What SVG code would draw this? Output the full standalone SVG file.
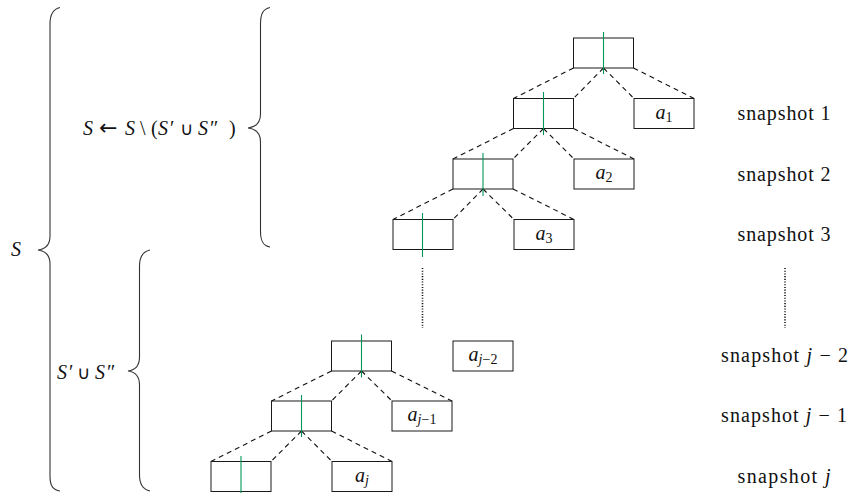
<svg xmlns="http://www.w3.org/2000/svg" width="850" height="493" viewBox="0 0 850 493" font-family="'Liberation Serif', 'DejaVu Serif', serif">
<style>
.box{fill:none;stroke:#1a1a1a;stroke-width:1}
.grn{stroke:#00965a;stroke-width:1.1}
.edge{stroke:#111;stroke-width:1.1;stroke-dasharray:5 4;fill:none}
.dot{stroke:#111;stroke-width:1.6;stroke-dasharray:1.1 1.6}
.brace{fill:none;stroke:#333;stroke-width:1.1}
text{font-family:"Liberation Serif","DejaVu Serif",serif;font-size:20px;fill:#111}
.it{font-style:italic}
.sym{font-family:"DejaVu Sans",sans-serif;font-size:18px}
.arr{font-family:"DejaVu Sans",sans-serif;font-size:22px}
.sub{font-size:14px;font-style:italic}
.subr{font-size:14px;font-style:normal}
.snap{text-anchor:middle}
.lbl{text-anchor:middle}
</style>
<rect width="850" height="493" fill="#fff"/>

<g id="braces">
<path class="brace" d="M60,7.5 C53,9 50,14 50,24 L50,236 C50,244 46,249 38,250 C46,251 50,256 50,264 L50,476 C50,486 53,490 60,491"/>
<path class="brace" d="M270,7.5 C263,9 260.5,14 260.5,24 L260.5,114 C260.5,122 256,127 248,128 C256,129 260.5,134 260.5,142 L260.5,231 C260.5,241 263,246 270,247"/>
<path class="brace" d="M150,250 C143,251.5 139.5,256 139.5,266 L139.5,357 C139.5,365 136,370 128,371 C136,372 139.5,377 139.5,385 L139.5,475 C139.5,485 143,489.5 150,491"/>
</g>

<g id="brace-labels">
<text id="label-S" x="11" y="256" class="it">S</text>
<text id="label-update" y="135"><tspan class="it" x="83">S</tspan><tspan class="arr" x="99">←</tspan><tspan class="it" x="125">S</tspan><tspan x="140">\</tspan><tspan x="151">(</tspan><tspan class="it" x="158">S</tspan><tspan x="170">′</tspan><tspan class="sym" x="180">∪</tspan><tspan class="it" x="198">S</tspan><tspan x="210">″</tspan><tspan x="229">)</tspan></text>
<text id="label-union" y="379"><tspan class="it" x="57">S</tspan><tspan x="69">′</tspan><tspan class="sym" x="77">∪</tspan><tspan class="it" x="95">S</tspan><tspan x="107">″</tspan></text>
</g>

<g id="connectors">
<path class="edge" d="M573.5,68 L513.5,98.5 M603.5,68 L573.5,98.5 M603.5,68 L634,98.5 M633.5,68 L694,98.5"/>
<path class="edge" d="M513.5,128.5 L453,159 M543.5,128.5 L513,159 M543.5,128.5 L574,159 M573.5,128.5 L634,159"/>
<path class="edge" d="M453,189 L393,219.5 M483,189 L453,219.5 M483,189 L514,219.5 M513,189 L574,219.5"/>
<path class="edge" d="M331.5,371 L271.5,401 M361.5,371 L331.5,401 M361.5,371 L392,401 M391.5,371 L452,401"/>
<path class="edge" d="M271.5,431 L211,461.5 M301.5,431 L271,461.5 M301.5,431 L332,461.5 M331.5,431 L392,461.5"/>
<line class="dot" x1="422.5" y1="268" x2="422.5" y2="328"/>
<line class="dot" x1="785" y1="268" x2="785" y2="328"/>
</g>

<g id="node-0"><rect class="box" x="573.5" y="38" width="60" height="30"/><line class="grn" x1="603.5" y1="32" x2="603.5" y2="74"/></g>
<g id="node-1"><rect class="box" x="513.5" y="98.5" width="60" height="30"/><line class="grn" x1="543.5" y1="92" x2="543.5" y2="135"/></g>
<g id="node-2"><rect class="box" x="453" y="159" width="60" height="30"/><line class="grn" x1="483" y1="153" x2="483" y2="196"/></g>
<g id="node-3"><rect class="box" x="393" y="219.5" width="60" height="30"/><line class="grn" x1="422.5" y1="213" x2="422.5" y2="257"/></g>
<g id="node-j2"><rect class="box" x="331.5" y="341" width="60" height="30"/><line class="grn" x1="361.5" y1="334.5" x2="361.5" y2="377.5"/></g>
<g id="node-j1"><rect class="box" x="271.5" y="401" width="60" height="30"/><line class="grn" x1="301.5" y1="395" x2="301.5" y2="437"/></g>
<g id="node-j"><rect class="box" x="211" y="461.5" width="60" height="30"/><line class="grn" x1="241" y1="456" x2="241" y2="493"/></g>

<g id="node-a1"><rect class="box" x="634" y="98.5" width="60" height="30"/><text class="lbl" x="664" y="118.5"><tspan class="it">a</tspan><tspan class="subr" dy="3">1</tspan></text></g>
<g id="node-a2"><rect class="box" x="574" y="159" width="60" height="30"/><text class="lbl" x="604" y="179"><tspan class="it">a</tspan><tspan class="subr" dy="3">2</tspan></text></g>
<g id="node-a3"><rect class="box" x="514" y="219.5" width="60" height="30"/><text class="lbl" x="544" y="239.5"><tspan class="it">a</tspan><tspan class="subr" dy="3">3</tspan></text></g>
<g id="node-aj2"><rect class="box" x="453" y="341" width="60" height="30"/><text class="lbl" x="483" y="361"><tspan class="it">a</tspan><tspan class="sub" dy="3">j</tspan><tspan class="subr">−2</tspan></text></g>
<g id="node-aj1"><rect class="box" x="392" y="401" width="60" height="30"/><text class="lbl" x="422" y="421"><tspan class="it">a</tspan><tspan class="sub" dy="3">j</tspan><tspan class="subr">−1</tspan></text></g>
<g id="node-aj"><rect class="box" x="332" y="461.5" width="60" height="30"/><text class="lbl" x="362" y="481.5"><tspan class="it">a</tspan><tspan class="sub" dy="3">j</tspan></text></g>

<g id="snapshots">
<text class="snap" x="784" y="120" textLength="93" lengthAdjust="spacing">snapshot 1</text>
<text class="snap" x="784" y="180.5" textLength="93" lengthAdjust="spacing">snapshot 2</text>
<text class="snap" x="784" y="241" textLength="93" lengthAdjust="spacing">snapshot 3</text>
<text class="snap" x="784.5" y="362" textLength="127" lengthAdjust="spacing">snapshot <tspan class="it">j</tspan> − 2</text>
<text class="snap" x="784" y="422" textLength="126" lengthAdjust="spacing">snapshot <tspan class="it">j</tspan> − 1</text>
<text class="snap" x="784" y="483" textLength="93" lengthAdjust="spacing">snapshot <tspan class="it">j</tspan></text>
</g>
</svg>
